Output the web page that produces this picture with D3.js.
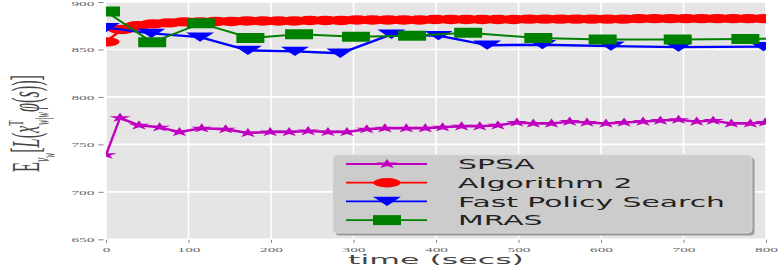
<!DOCTYPE html>
<html><head><meta charset="utf-8">
<script src="https://cdn.jsdelivr.net/npm/d3@7"></script>
<style>body{margin:0;background:#fff;overflow:hidden}</style>
</head><body>
<svg id="chart" width="781" height="267"></svg>
<script>
// ---------- data ----------
const xTicks = [0, 100, 200, 300, 400, 500, 600, 700, 800];
const yTicks = [650, 700, 750, 800, 850, 900];
const seriesNames = ["SPSA", "Algorithm 2", "Fast Policy Search", "MRAS"];
const xLabel = "time (secs)";

const spsaT = [0,17,40,65,89,116,145,172,199,222,245,269,292,316,338,364,387,408,431,453,475,498,518,540,562,583,606,628,651,672,694,716,736,758,781,799];
const spsaV = [739,778,770,768,763,767,766,762,763,763,764,763,763,766,767,767,767,768,769,769,770,773,772,772,774,773,772,773,774,775,776,774,775,772,772,773];

const alg2T = [0,19,38,57,76,95,114,133,152,171,190,209,228,247,266,285,304,323,342,361,380,399,418,437,456,475,494,513,532,551,570,589,608,627,646,665,684,703,722,741,760,779,798];
const alg2V = [858,871,875,877,878,879,879,879.5,879.5,880,880,880,880,880.5,880.5,880.5,881,881,881,881,881,881.5,881.5,881.5,881.5,881.5,881.5,882,882,882,882,882,882,882,882.5,882.5,882.5,882.5,882.5,882.5,882.5,882.5,882.5];

const fpsT = [0,55,114,172,229,284,346,403,462,529,612,694,797];
const fpsV = [873,867,863,849,848,846,866,864.5,854.5,855,853.5,852.5,853];

const mrasT = [0,56,115,175,234,303,371,439,524,602,693,775,860];
const mrasV = [890,857.5,877.5,862,866,863.5,864.5,867.5,862,860.5,860.5,861,862];

// ---------- setup ----------
const svg = d3.select("#chart");
const x = d3.scaleLinear().domain([0, 800]).range([106, 766]);
const y = d3.scaleLinear().domain([650, 900]).range([239.3, 2]);
const [x0, x1] = x.range();
const [yb, yt] = y.range();

svg.append("rect").attr("width", 781).attr("height", 267).attr("fill", "#fff");
svg.append("rect").attr("x", x0).attr("y", yt).attr("width", x1 - x0).attr("height", yb - yt).attr("fill", "#e5e5e5");

// grid
const grid = svg.append("g");
grid.selectAll(".gx").data(xTicks).join("line")
  .attr("x1", d => x(d)).attr("x2", d => x(d)).attr("y1", yt).attr("y2", yb)
  .attr("stroke", "#fff").attr("stroke-width", 1.6);
grid.selectAll(".gy").data(yTicks).join("line")
  .attr("y1", d => y(d)).attr("y2", d => y(d)).attr("x1", x0).attr("x2", x1)
  .attr("stroke", "#fff").attr("stroke-width", 1.6);

// axes
const tickFont = "'Liberation Serif', 'DejaVu Serif', serif";
const tsx = 2.2;
const yAxis = svg.append("g").attr("transform", `translate(${x0 - 2.5},0)`)
  .call(d3.axisLeft(y).tickValues(yTicks).tickSize(5).tickSizeOuter(0).tickFormat(d3.format("d")));
yAxis.select(".domain").remove();
yAxis.selectAll(".tick line").attr("stroke", "#666").attr("stroke-width", 0.8);
yAxis.selectAll(".tick text")
  .attr("x", -9 / tsx).attr("dy", d => d === 900 ? "0.5em" : "0.34em").attr("transform", `scale(${tsx},1)`)
  .attr("fill", "#666").style("font-family", tickFont).style("font-size", "7px");

const xAxis = svg.append("g").attr("transform", `translate(0,${yb + 0.5})`)
  .call(d3.axisBottom(x).tickValues(xTicks).tickSize(3).tickSizeOuter(0).tickFormat(d3.format("d")));
xAxis.select(".domain").remove();
xAxis.selectAll(".tick line").attr("stroke", "#666").attr("stroke-width", 0.8);
xAxis.selectAll(".tick text")
  .attr("x", 0).attr("y", 7).attr("dy", "0.71em").attr("transform", `scale(${tsx},1)`)
  .attr("fill", "#666").style("font-family", tickFont).style("font-size", "7px");

// clip
svg.append("clipPath").attr("id", "plotclip").append("rect")
  .attr("x", x0).attr("y", yt).attr("width", x1 - x0).attr("height", yb - yt);

// markers
const markerDefs = {
  star: (g, c) => g.append("path").attr("d", d3.symbol(d3.symbolStar, 28)())
        .attr("transform", "scale(2.3,1)").attr("fill", c),
  circle: (g, c) => g.append("path").attr("d", d3.symbol(d3.symbolCircle, 69)())
        .attr("transform", "scale(2.9,1)").attr("fill", c),
  tri: (g, c) => g.append("path").attr("d", d3.symbol(d3.symbolTriangle, 50)())
        .attr("transform", "scale(2.6,-1) translate(0,1.55)").attr("fill", c),
  square: (g, c) => g.append("path").attr("d", d3.symbol(d3.symbolSquare, 100)())
        .attr("transform", "scale(2.8,1)").attr("fill", c)
};

const series = [
  {name: seriesNames[0], t: spsaT, v: spsaV, color: "#bf00bf", marker: "star", lw: 2.4},
  {name: seriesNames[1], t: alg2T, v: alg2V, color: "#ff0000", marker: "circle", lw: 2.4},
  {name: seriesNames[2], t: fpsT, v: fpsV, color: "#0000ff", marker: "tri", lw: 2.4},
  {name: seriesNames[3], t: mrasT, v: mrasV, color: "#008000", marker: "square", lw: 2}
];

const plot = svg.append("g").attr("clip-path", "url(#plotclip)");
const line = d3.line().x(d => x(d[0])).y(d => y(d[1]));
series.forEach(s => {
  const pts = s.t.map((t, i) => [t, s.v[i]]);
  const g = plot.append("g");
  g.append("path").attr("d", line(pts)).attr("fill", "none")
    .attr("stroke", s.color).attr("stroke-width", s.lw).attr("stroke-linejoin", "round");
  pts.forEach(p => {
    const mg = g.append("g").attr("transform", `translate(${x(p[0])},${y(p[1])})`);
    markerDefs[s.marker](mg, s.color);
  });
});

// legend
const leg = svg.append("g");
const lx = 333, ly = 155, lw = 419, lh = 78;
leg.append("rect").attr("x", lx + 2.5).attr("y", ly + 2.5).attr("width", lw).attr("height", lh)
  .attr("rx", 4).attr("fill", "#9a9a9a");
leg.append("rect").attr("x", lx).attr("y", ly).attr("width", lw).attr("height", lh)
  .attr("rx", 4).attr("fill", "#cccccc").attr("stroke", "#d8d8d8").attr("stroke-width", 1);
const legFs = 14, legSx = 2.13;
series.forEach((s, i) => {
  const cy = 164 + i * 18.7;
  leg.append("line").attr("x1", 346).attr("x2", 427).attr("y1", cy).attr("y2", cy)
    .attr("stroke", s.color).attr("stroke-width", 1.8);
  const mg = leg.append("g").attr("transform", `translate(387,${cy})`);
  markerDefs[s.marker](mg, s.color);
  leg.append("g").attr("transform", `translate(458,${cy + 5.2}) scale(${legSx},1)`)
    .append("text").text(s.name)
    .style("font-family", "'DejaVu Sans', sans-serif").style("font-size", legFs + "px")
    .attr("fill", "#222");
});

// x label
const xl = svg.append("g");
const xlt = xl.append("text").text(xLabel).attr("text-anchor", "middle")
  .style("font-family", "'DejaVu Sans', sans-serif").style("font-size", "13px").attr("fill", "#444");
const xlLen = xlt.node().getComputedTextLength();
xl.attr("transform", `translate(${(x0 + x1) / 2},264) scale(${176 / xlLen},1)`);

// y label
const ylg = svg.append("g");
const ylt = ylg.append("text").attr("transform", "rotate(-90)")
  .style("font-family", "'Liberation Serif', 'DejaVu Serif', serif").style("font-size", "20px").attr("fill", "#444");
ylt.append("tspan").text("E");
ylt.append("tspan").text("ν").style("font-size", "12px").style("font-style", "italic").attr("dy", 5);
ylt.append("tspan").text("w").style("font-size", "9px").style("font-style", "italic").attr("dy", 3);
ylt.append("tspan").text("[").attr("dy", -8);
ylt.append("tspan").text("L").style("font-style", "italic");
ylt.append("tspan").text("(");
ylt.append("tspan").text("x").style("font-style", "italic");
ylt.append("tspan").text("T").style("font-size", "11px").attr("dy", -8);
ylt.append("tspan").text("w|w").style("font-size", "10px").style("font-style", "italic").attr("dx", -6).attr("dy", 13);
ylt.append("tspan").text("φ").style("font-style", "italic").attr("dy", -5);
ylt.append("tspan").text("(");
ylt.append("tspan").text("s").style("font-style", "italic");
ylt.append("tspan").text("))]");
const ylLen = ylt.node().getComputedTextLength();
ylg.attr("transform", `translate(39,172) scale(2.0,${102 / ylLen})`);
</script>
</body></html>
